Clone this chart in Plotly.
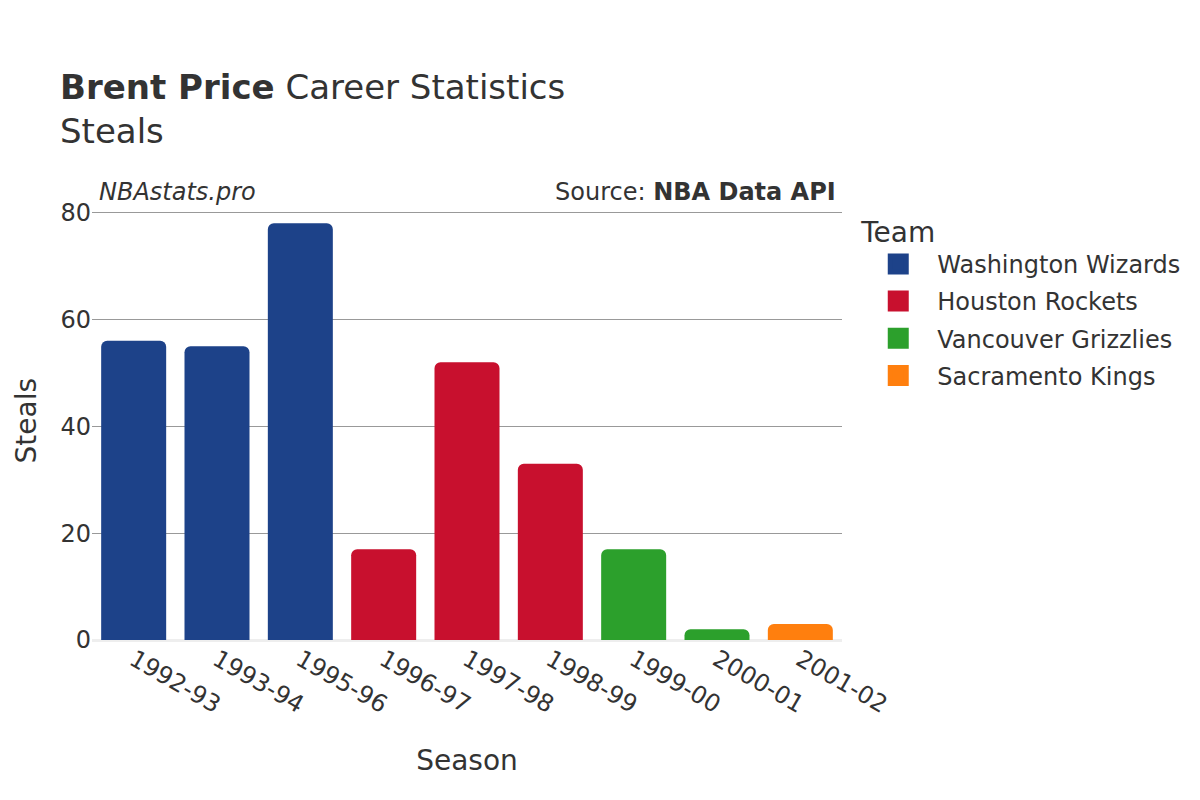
import plotly.graph_objects as go

seasons = ["1992-93", "1993-94", "1995-96", "1996-97", "1997-98", "1998-99", "1999-00", "2000-01", "2001-02"]
teams = ["Washington Wizards", "Washington Wizards", "Washington Wizards", "Houston Rockets", "Houston Rockets",
         "Houston Rockets", "Vancouver Grizzlies", "Vancouver Grizzlies", "Sacramento Kings"]
steals = [56, 55, 78, 17, 52, 33, 17, 2, 3]

team_order = ["Washington Wizards", "Houston Rockets", "Vancouver Grizzlies", "Sacramento Kings"]
team_colors = {"Washington Wizards": "#1d4289", "Houston Rockets": "#c8102e",
               "Vancouver Grizzlies": "#2ca02c", "Sacramento Kings": "#ff7f0e"}

FONT = "DejaVu Sans"
fig = go.Figure()
for t in team_order:
    xs = [s for s, tm in zip(seasons, teams) if tm == t]
    ys = [v for v, tm in zip(steals, teams) if tm == t]
    fig.add_trace(go.Bar(x=xs, y=ys, name=t, legendgroup=t, showlegend=False,
                         marker_color=team_colors[t], marker_line_width=0))
    # legend proxy (larger square swatch)
    fig.add_trace(go.Scatter(x=[xs[0]], y=[None], mode="markers", name=t, legendgroup=t, showlegend=True,
                             hoverinfo="skip",
                             marker=dict(symbol="square", size=16, color=team_colors[t],
                                         line=dict(color=team_colors[t], width=5))))

fig.update_layout(
    width=1200, height=800,
    barmode="relative",
    barcornerradius=6,
    bargap=0.22,
    plot_bgcolor="white", paper_bgcolor="white",
    font=dict(family=FONT, color="#333333", size=24),
    margin=dict(l=84, r=366, t=203, b=168),
    title=dict(text="<b>Brent Price</b> Career Statistics<br>Steals", x=52 / 1200, xanchor="left",
               y=0.886, yanchor="top", font=dict(size=34, family=FONT, color="#333333")),
    legend=dict(title=dict(text="Team", font=dict(size=28)), x=1.023, xanchor="left", y=1.013, yanchor="top",
                font=dict(size=24), tracegroupgap=3, itemsizing="trace", itemwidth=68),
    xaxis=dict(title=dict(text="Season", font=dict(size=28), standoff=32), tickangle=30,
               categoryorder="array", categoryarray=seasons, range=[-0.5, len(seasons) - 0.5],
               tickfont=dict(size=24)),
    yaxis=dict(range=[0, 80.3], tickvals=[0, 20, 40, 60, 80], automargin=False,
               gridcolor="#999999", gridwidth=1, zeroline=True, zerolinecolor="#eeeeee", zerolinewidth=3,
               tickfont=dict(size=24)),
    annotations=[
        dict(text="<i>NBAstats.pro</i>", x=0, xref="paper", xanchor="left", xshift=5, yshift=3, y=1.0, yref="paper",
             yanchor="bottom", showarrow=False, font=dict(size=24, family=FONT, color="#333333")),
        dict(text="Source: <b>NBA Data API</b>", x=1, xref="paper", xanchor="right", xshift=-4, yshift=3, y=1.0, yref="paper",
             yanchor="bottom", showarrow=False, font=dict(size=24, family=FONT, color="#333333")),
        dict(text="Steals", x=0, xref="paper", xanchor="center", xshift=-66, y=0.5, yref="paper",
             yanchor="middle", yshift=5, textangle=-90, showarrow=False,
             font=dict(size=28, family=FONT, color="#333333")),
    ],
)

fig.write_html("out.html")
